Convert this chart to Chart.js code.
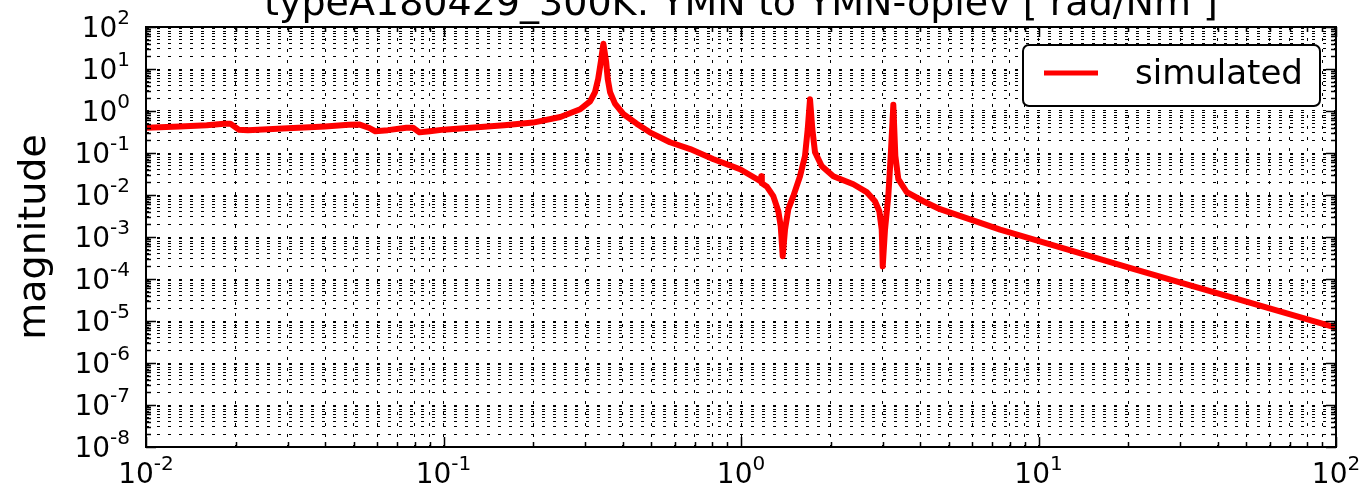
<!DOCTYPE html>
<html>
<head>
<meta charset="utf-8">
<title>typeA180429_300K: YMN to YMN-oplev</title>
<script src="https://cdn.jsdelivr.net/npm/chart.js@4.4.1/dist/chart.umd.min.js"></script>
<style>
    body { margin: 0; background: #fff; }
    #wrap { width: 1369px; height: 492px; }
</style>
</head>
<body>
<div id="wrap"><canvas id="bodePlot" width="1369" height="492"></canvas></div>
<script>
// ---------- Data ----------
const titleText = "typeA180429_300K: YMN to YMN-oplev [ rad/Nm ]";
const yAxisLabel = "magnitude";
const seriesLabel = "simulated";

// decades that get a "10^n" label
const xTickExps = [-2, -1, 0, 1, 2];
const yTickExps = [-8, -7, -6, -5, -4, -3, -2, -1, 0, 1, 2];

// frequency [Hz]
const freq = [
    0.010, 0.013, 0.016, 0.0183, 0.0192, 0.0205, 0.022, 0.030, 0.040, 0.048,
    0.052, 0.056, 0.059, 0.065, 0.075, 0.079, 0.083, 0.090, 0.100, 0.130,
    0.160, 0.200, 0.247, 0.288, 0.311, 0.323, 0.331, 0.338, 0.3447, 0.352,
    0.3565, 0.363, 0.377, 0.402, 0.446, 0.494, 0.577, 0.675, 0.805, 0.993,
    1.130, 1.165, 1.170, 1.175, 1.220, 1.284, 1.335, 1.360, 1.381, 1.406,
    1.442, 1.499, 1.579, 1.641, 1.676, 1.706, 1.737, 1.773, 1.867, 2.043,
    2.386, 2.646, 2.821, 2.917, 2.972, 2.995, 3.048, 3.127, 3.186, 3.251,
    3.302, 3.379, 3.606, 4.101, 4.667, 7.430, 20.0, 100.0
];

// magnitude [rad/Nm]
const mag = [
    0.40, 0.43, 0.46, 0.50, 0.50, 0.36, 0.35, 0.39, 0.43, 0.47,
    0.48, 0.40, 0.33, 0.35, 0.40, 0.40, 0.31, 0.33, 0.36, 0.41,
    0.46, 0.53, 0.72, 1.1, 1.7, 2.8, 5.8, 15, 40, 15,
    5.8, 2.8, 1.5, 0.85, 0.50, 0.31, 0.18, 0.124, 0.072, 0.041,
    0.024, 0.021, 0.028, 0.019, 0.016, 0.0094, 0.0041, 0.0018, 3.5e-4, 0.0015,
    0.0046, 0.0094, 0.028, 0.085, 0.37, 1.9, 0.37, 0.105, 0.049, 0.028,
    0.018, 0.0117, 0.0071, 0.0041, 0.0015, 2.0e-4, 0.0015, 0.0094, 0.085, 1.4,
    0.085, 0.024, 0.0117, 0.0071, 0.0046, 0.0015, 1.9e-4, 7e-6
];

// ---------- Helpers ----------
const FONT = '"DejaVu Sans", sans-serif';

function decadeTicks(exps) {
    const vals = [];
    for (let i = 0; i < exps.length - 1; i++) {
        for (let m = 1; m <= 9; m++) vals.push(m * Math.pow(10, exps[i]));
    }
    vals.push(Math.pow(10, exps[exps.length - 1]));
    return vals;
}

function isMajor(v) {
    const l = Math.log10(v);
    return Math.abs(l - Math.round(l)) < 1e-9;
}

// "10" with a raised exponent, y is the baseline of the "10"
function drawPow(ctx, exp, x, y, align) {
    const base = "10", sup = String(exp);
    ctx.font = "28px " + FONT;
    const wb = ctx.measureText(base).width;
    ctx.font = "20px " + FONT;
    const ws = ctx.measureText(sup).width;
    const x0 = align === "right" ? x - wb - ws : x - (wb + ws) / 2;
    ctx.textAlign = "left";
    ctx.textBaseline = "alphabetic";
    ctx.font = "28px " + FONT;
    ctx.fillText(base, x0, y);
    ctx.font = "20px " + FONT;
    ctx.fillText(sup, x0 + wb, y - 13);
}

// ---------- Decorations (frame, ticks, labels, title, legend) ----------
const mplStyle = {
    id: "mplStyle",
    afterDraw(chart) {
        const ctx = chart.ctx;
        const a = chart.chartArea;
        const xs = chart.scales.x, ys = chart.scales.y;
        ctx.save();
        ctx.fillStyle = "#000";
        ctx.strokeStyle = "#000";

        // inward tick marks on all four sides
        ctx.lineWidth = 1.5;
        ctx.beginPath();
        xs.ticks.forEach(t => {
            const px = Math.round(xs.getPixelForValue(t.value)) + 0.5;
            const len = isMajor(t.value) ? 10 : 5;
            ctx.moveTo(px, a.bottom); ctx.lineTo(px, a.bottom - len);
            ctx.moveTo(px, a.top); ctx.lineTo(px, a.top + len);
        });
        ys.ticks.forEach(t => {
            const py = Math.round(ys.getPixelForValue(t.value)) + 0.5;
            const len = isMajor(t.value) ? 10 : 5;
            ctx.moveTo(a.left, py); ctx.lineTo(a.left + len, py);
            ctx.moveTo(a.right, py); ctx.lineTo(a.right - len, py);
        });
        ctx.stroke();

        // frame
        ctx.lineWidth = 2;
        ctx.strokeRect(a.left, a.top, a.right - a.left, a.bottom - a.top);

        // tick labels
        xTickExps.forEach(e => drawPow(ctx, e, xs.getPixelForValue(Math.pow(10, e)), a.bottom + 36, "center"));
        yTickExps.forEach(e => drawPow(ctx, e, 130, ys.getPixelForValue(Math.pow(10, e)) + 10, "right"));

        // y axis label
        ctx.save();
        ctx.translate(45, (a.top + a.bottom) / 2);
        ctx.rotate(-Math.PI / 2);
        ctx.font = "38px " + FONT;
        ctx.textAlign = "center";
        ctx.textBaseline = "alphabetic";
        ctx.fillText(yAxisLabel, 0, 0);
        ctx.restore();

        // title, mostly above the canvas edge
        ctx.font = "38px " + FONT;
        ctx.textAlign = "center";
        ctx.textBaseline = "alphabetic";
        ctx.fillText(titleText, (a.left + a.right) / 2, 15);

        // legend box
        const ds = chart.data.datasets[0];
        const bx = a.right - 313, by = a.top + 18, bw = 297, bh = 61;
        ctx.beginPath();
        ctx.roundRect(bx, by, bw, bh, 6);
        ctx.fillStyle = "#fff";
        ctx.fill();
        ctx.lineWidth = 2;
        ctx.strokeStyle = "#000";
        ctx.stroke();
        ctx.beginPath();
        ctx.lineWidth = 5;
        ctx.strokeStyle = ds.borderColor;
        ctx.moveTo(bx + 21, by + 28);
        ctx.lineTo(bx + 75, by + 28);
        ctx.stroke();
        ctx.fillStyle = "#000";
        ctx.font = "34px " + FONT;
        ctx.textAlign = "left";
        ctx.fillText(ds.label, bx + 112, by + 39);

        ctx.restore();
    }
};

// ---------- Chart ----------
const points = freq.map((f, i) => ({ x: f, y: mag[i] }));
const xTickVals = decadeTicks(xTickExps);
const yTickVals = decadeTicks(yTickExps);

const gridOpts = { color: "#000", lineWidth: 1, drawTicks: false };
const borderOpts = { display: false, dash: [3, 8] };

new Chart(document.getElementById("bodePlot"), {
    type: "line",
    data: {
        datasets: [{
            label: seriesLabel,
            data: points,
            borderColor: "#ff0000",
            borderWidth: 6,
            borderJoinStyle: "round",
            borderCapStyle: "round",
            pointRadius: 0,
            tension: 0,
            fill: false
        }]
    },
    options: {
        responsive: false,
        animation: false,
        layout: { padding: { left: 146, right: 33, top: 27, bottom: 45 } },
        plugins: { legend: { display: false }, title: { display: false }, tooltip: { enabled: false } },
        scales: {
            x: {
                type: "logarithmic", min: 0.01, max: 100,
                grid: gridOpts, border: borderOpts,
                ticks: { display: false, autoSkip: false },
                afterBuildTicks: s => { s.ticks = xTickVals.map(v => ({ value: v })); },
                afterFit: s => { s.height = 0; }
            },
            y: {
                type: "logarithmic", min: 1e-8, max: 100,
                grid: gridOpts, border: borderOpts,
                ticks: { display: false, autoSkip: false },
                afterBuildTicks: s => { s.ticks = yTickVals.map(v => ({ value: v })); },
                afterFit: s => { s.width = 0; }
            }
        }
    },
    plugins: [mplStyle]
});
</script>
</body>
</html>
